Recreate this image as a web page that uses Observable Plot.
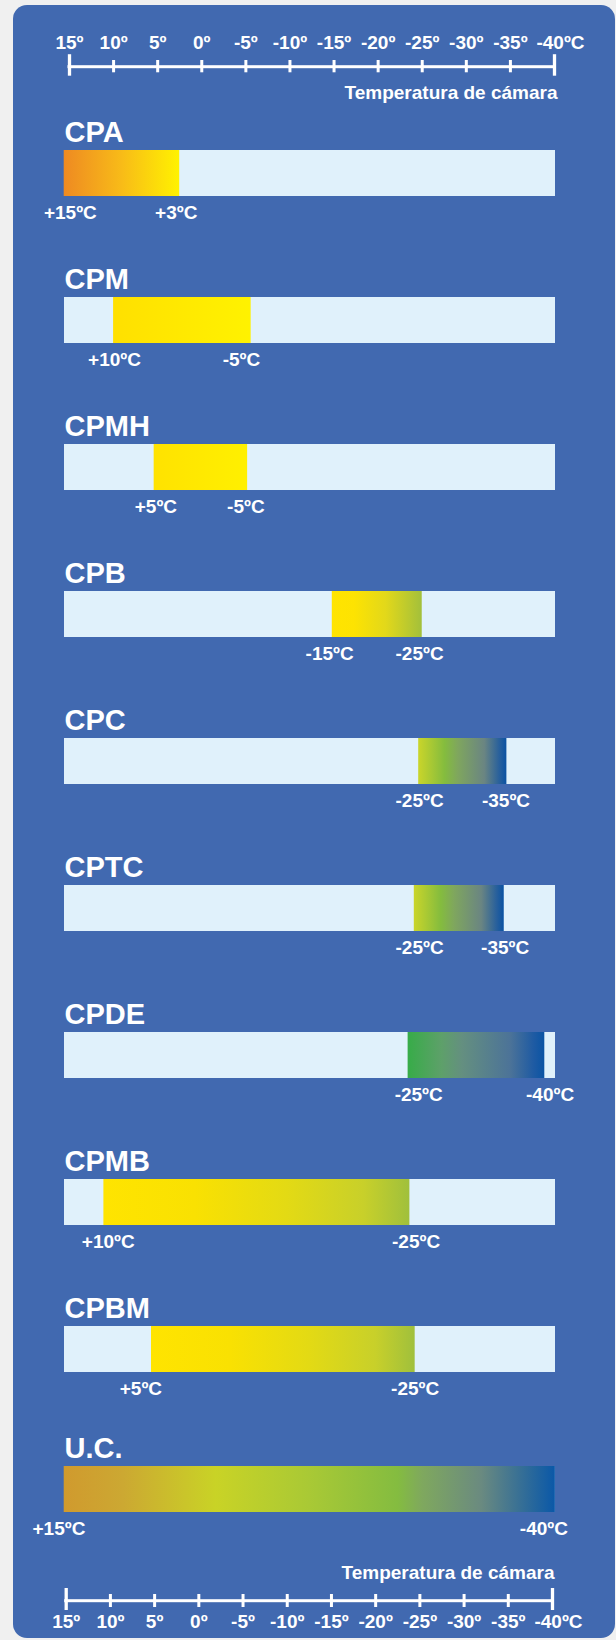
<!DOCTYPE html>
<html><head><meta charset="utf-8">
<script src="https://cdn.jsdelivr.net/npm/d3@7"></script>
<script src="https://cdn.jsdelivr.net/npm/@observablehq/plot@0.6"></script>
<style>
html,body{margin:0;padding:0;background:#f0f0f0;}
#wrap{position:relative;width:616px;height:1640px;overflow:hidden;font-family:"Liberation Sans",Arial,sans-serif;}
#panel{position:absolute;left:13px;top:5px;width:602px;height:1633px;border-radius:14px;background:#4169b0;}
#charts{position:absolute;left:0;top:0;width:616px;}
#charts svg{display:block;background:transparent !important;max-width:none !important;overflow:visible;}
#defs{position:absolute;left:0;top:0;width:0;height:0;}
</style></head><body>
<div id="wrap"><div id="panel"></div><svg id="defs"></svg><div id="charts"></div></div>
<script>
// ---- data ----
const tickValues = [15, 10, 5, 0, -5, -10, -15, -20, -25, -30, -35, -40];
const tickLabels = ["15º","10º","5º","0º","-5º","-10º","-15º","-20º","-25º","-30º","-35º","-40ºC"];
const axisTitle = "Temperatura de cámara";
const names = ["CPA","CPM","CPMH","CPB","CPC","CPTC","CPDE","CPMB","CPBM","U.C."];
const barFrom = [15.6, 10.0, 5.4, -14.8, -24.6, -24.1, -23.4, 11.1, 5.7, 15.6];
const barTo   = [2.5, -5.6, -5.2, -25.0, -34.6, -34.3, -38.9, -23.6, -24.2, -40.1];
const labelFrom = ["+15ºC","+10ºC","+5ºC","-15ºC","-25ºC","-25ºC","-25ºC","+10ºC","+5ºC","+15ºC"];
const labelTo   = ["+3ºC","-5ºC","-5ºC","-25ºC","-35ºC","-35ºC","-40ºC","-25ºC","-25ºC","-40ºC"];
const labelFromAt = [14.9, 9.9, 5.2, -14.5, -24.7, -24.7, -24.6, 10.6, 6.9, 16.2];
const labelToAt   = [2.9, -4.5, -5.0, -24.7, -34.5, -34.4, -39.5, -24.3, -24.2, -38.8];

// ---- styles ----
const FONT = "'Liberation Sans', Arial, sans-serif";
const TRACK = "#e0f1fb";
const coldStops = [[0,"#cad52a"],[0.3,"#84bc3e"],[0.45,"#7fa65e"],[0.75,"#6a8582"],[0.92,"#28609c"],[1,"#0a52a3"]];
const warmStops = [[0,"#ffe400"],[0.3,"#f9e102"],[0.6,"#e3da14"],[0.85,"#c8d02a"],[1,"#a0c03c"]];
const gradientStops = [
  [[0,"#ee8a22"],[0.5,"#f8bb18"],[1,"#fff200"]],
  [[0,"#ffe000"],[1,"#fff200"]],
  [[0,"#ffe200"],[1,"#fff000"]],
  [[0,"#ffe400"],[0.25,"#fde302"],[0.6,"#e2d81a"],[1,"#a3c03b"]],
  coldStops,
  coldStops,
  [[0,"#37ac48"],[0.25,"#5ea06a"],[0.4,"#648f80"],[0.75,"#4c7398"],[0.92,"#1f5ba3"],[1,"#0a54a4"]],
  warmStops,
  warmStops,
  [[0,"#d09a2e"],[0.12,"#cca832"],[0.31,"#c9d326"],[0.5,"#a9c935"],[0.68,"#84bc40"],[0.73,"#7fa85e"],[0.85,"#6a8a80"],[1,"#0a58a8"]]
];
const rowHeights = [147,147,147,147,147,147,147,147,140,130];

// gradient definitions
const defs = d3.select("#defs").append("defs");
names.forEach((n, i) => {
  const g = defs.append("linearGradient").attr("id", "grad" + i)
    .attr("x1", "0").attr("x2", "1").attr("y1", "0").attr("y2", "0");
  for (const [o, c] of gradientStops[i]) g.append("stop").attr("offset", o).attr("stop-color", c);
});

const charts = document.getElementById("charts");
const txt = {fill: "white", fontWeight: "bold", fontFamily: FONT, fontSize: 19};
const styleObj = {background: "transparent", fontFamily: FONT, overflow: "visible"};
const ext = [tickValues[0], tickValues[tickValues.length - 1]];

function axisPlot(o) {
  return Plot.plot({
    width: 616, height: o.height,
    marginLeft: o.ml, marginRight: o.mr, marginTop: o.mt, marginBottom: o.height - o.mt - 3,
    x: {domain: ext, axis: null},
    style: styleObj,
    marks: [
      Plot.barX([ext], {x1: d => d[0], x2: d => d[1], fill: "white", insetLeft: -1.5, insetRight: -1.5}),
      Plot.ruleX(tickValues.slice(1, -1), {x: d => d, stroke: "white", strokeWidth: 3, insetTop: o.it, insetBottom: o.ib}),
      Plot.ruleX(ext, {x: d => d, stroke: "white", strokeWidth: 3.3, insetTop: o.et, insetBottom: o.eb}),
      Plot.text(tickValues.slice(0, -1), {...txt, x: d => d, text: (d, i) => tickLabels[i], frameAnchor: "top", lineAnchor: "bottom", dy: o.labDy}),
      Plot.text([tickValues[tickValues.length - 1]], {...txt, x: d => d, text: () => tickLabels[tickLabels.length - 1], frameAnchor: "top", lineAnchor: "bottom", dy: o.labDy, dx: 6}),
      Plot.text([axisTitle], {...txt, x: () => ext[1], text: d => d, textAnchor: "end", frameAnchor: "top", lineAnchor: "bottom", dx: o.tdx, dy: o.titleDy})
    ]
  });
}

charts.appendChild(axisPlot({height: 110, ml: 69, mr: 62, mt: 65.2, it: -5.2, ib: -4.1, et: -11, eb: -7.5, labDy: -16.9, titleDy: 32.8, tdx: 3}));

names.forEach((name, i) => {
  const h = rowHeights[i];
  charts.appendChild(Plot.plot({
    width: 616, height: h,
    marginLeft: 69, marginRight: 62, marginTop: 40, marginBottom: h - 86,
    x: {domain: ext, axis: null},
    style: styleObj,
    marks: [
      Plot.barX([ext], {x1: d => d[0], x2: d => d[1], fill: TRACK, insetLeft: -5, insetRight: -1}),
      Plot.barX([[barFrom[i], barTo[i]]], {x1: d => d[0], x2: d => d[1], fill: `url(#grad${i})`}),
      Plot.text([name], {...txt, fontSize: 29, text: d => d, frameAnchor: "top-left", textAnchor: "start", lineAnchor: "bottom", dx: -5, dy: -9}),
      Plot.text([0, 1], {...txt, x: j => [labelFromAt[i], labelToAt[i]][j], text: j => [labelFrom[i], labelTo[i]][j], frameAnchor: "top", lineAnchor: "bottom", dy: 68})
    ]
  }));
});

charts.appendChild(axisPlot({height: 84, ml: 65.7, mr: 64, mt: 43.2, it: -5.2, ib: -4.8, et: -11.2, eb: -7.8, labDy: 28.5, titleDy: -21.2, tdx: 2}));
</script>
</body></html>
